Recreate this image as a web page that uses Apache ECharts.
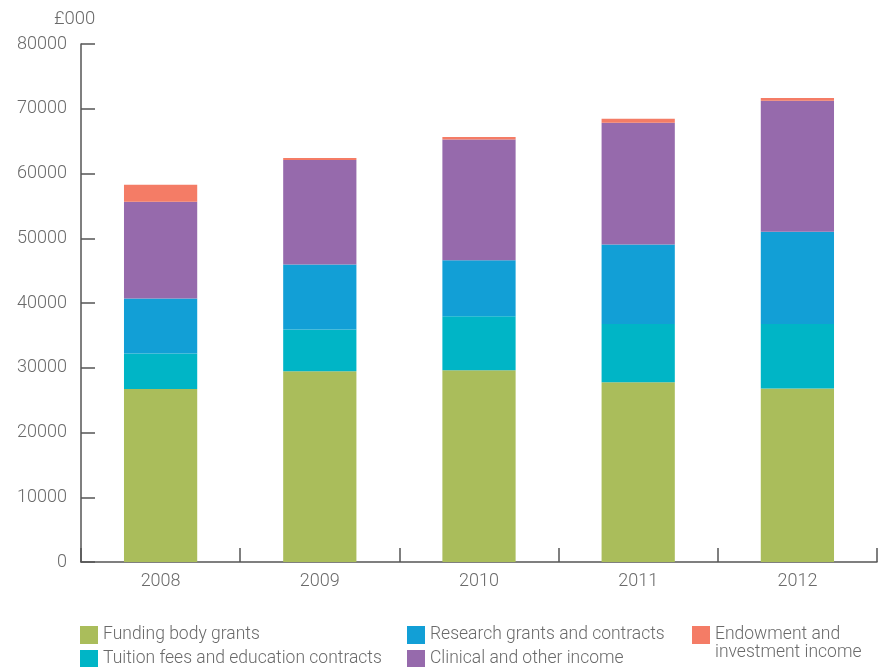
<!DOCTYPE html>
<html><head><meta charset="utf-8">
<script src="https://cdn.jsdelivr.net/npm/echarts@6/dist/echarts.min.js"></script>
<style>html,body{margin:0;padding:0;background:#fff}#c{width:880px;height:667px}</style>
</head><body><div id="c"></div>
<script>
const categories = ['2008','2009','2010','2011','2012'];
const funding = [26700, 29450, 29600, 27750, 26800];
const tuition = [5500, 6450, 8350, 9000, 9950];
const research = [8500, 10050, 8650, 12300, 14250];
const clinical = [14950, 16150, 18650, 18800, 20250];
const endowment = [2600, 300, 400, 600, 400];
const yTicks = [0, 10000, 20000, 30000, 40000, 50000, 60000, 70000, 80000];
const names = ['Funding body grants','Tuition fees and education contracts','Research grants and contracts','Clinical and other income','Endowment and\ninvestment income'];
const colors = ['#aabd5b','#00b5c6','#129fd6','#966aac','#f47c66'];
const dataArr = [funding, tuition, research, clinical, endowment];

const font = 'Roboto';
const txt = '#6a6a6a';
const chart = echarts.init(document.getElementById('c'));
function legendBase(extra){
  return Object.assign({orient:'vertical', padding:0, itemWidth:18, itemHeight:18, itemGap:6, icon:'rect',
    height:80, selectedMode:false,
    textStyle:{color:txt, fontFamily:font, fontSize:17.5, fontWeight:300, lineHeight:18}}, extra);
}
chart.setOption({
  animation:false,
  color: colors,
  title:{text:'£000', left:49, top:5, textStyle:{color:txt, fontFamily:font, fontSize:18.5, fontWeight:300}},
  grid:{left:81, right:3, top:44, bottom:105},
  legend:[
    legendBase({left:80, top:626, data:[names[0], names[1]]}),
    legendBase({left:407, top:626, data:[names[2], names[3]]}),
    legendBase({left:692, top:608, data:[names[4]], formatter: n => '\n' + n})
  ],
  xAxis:{type:'category', data:categories,
    axisLine:{lineStyle:{color:'#555', width:1.5}},
    axisTick:{show:true, inside:true, length:14, lineStyle:{color:'#555', width:1.5}},
    axisLabel:{color:txt, fontFamily:font, fontSize:18, fontWeight:300, margin:10}},
  yAxis:{type:'value', min:0, max:80000, interval:10000,
    axisLine:{show:true, lineStyle:{color:'#555', width:1.5}},
    axisTick:{show:true, inside:true, length:14, lineStyle:{color:'#555', width:1.5}},
    splitLine:{show:false},
    axisLabel:{color:txt, fontFamily:font, fontSize:18, fontWeight:300, margin:14,
      formatter:v=> yTicks.includes(v) ? String(v) : ''}},
  series: dataArr.map((d,i)=>({name:names[i], type:'bar', stack:'t', data:d, barWidth:'46%',
    itemStyle:{color:colors[i]}}))
});
</script></body></html>
